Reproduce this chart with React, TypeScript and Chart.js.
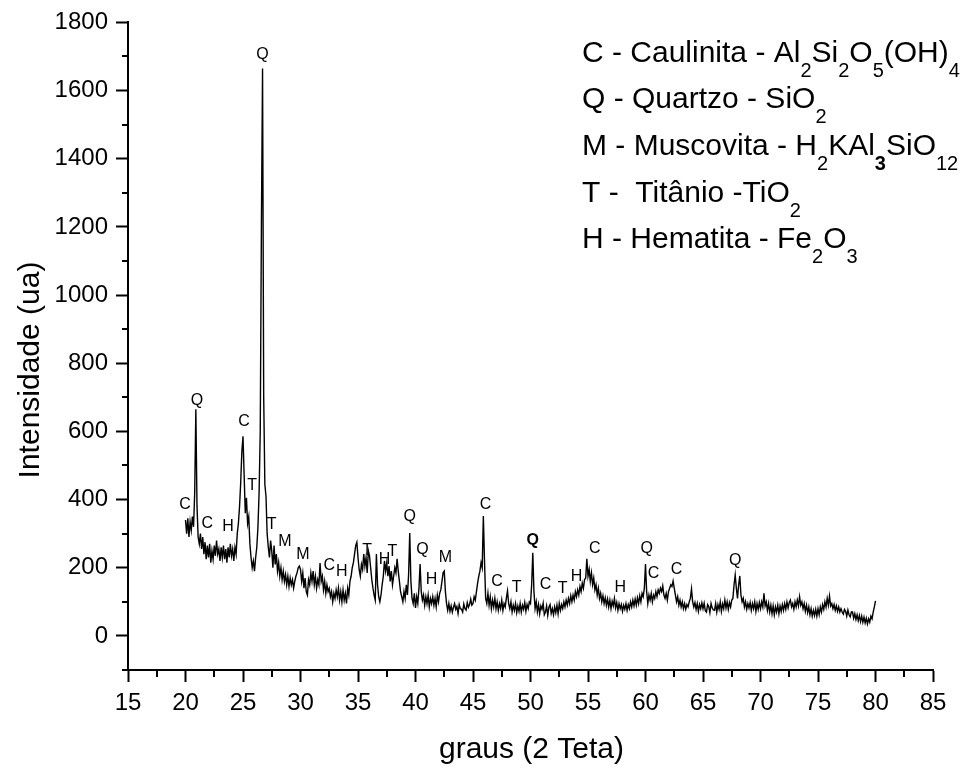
import React, { useEffect, useRef } from 'react';
import { Chart, registerables } from 'chart.js';

Chart.register(...registerables);

// Scan grid: 2θ from 20.0° to 80.0° in 0.1° steps
const SCAN_START = 20;
const SCAN_STEP = 0.1;

// Measured intensity (ua), one array per 10° window
const intensity20to30 = [
  340, 300, 345, 290, 335, 310, 350, 320, 420, 665,
  380, 290, 270, 300, 255, 290, 240, 275, 225, 265,
  230, 270, 215, 250, 225, 265, 235, 280, 240, 255,
  220, 260, 230, 265, 225, 255, 215, 260, 230, 270,
  235, 255, 220, 260, 240, 300, 330, 380, 450, 540,
  586, 470, 360, 405, 330, 350, 270, 230, 200, 220,
  190, 230, 260, 320, 420, 600, 1200, 1665, 700, 445,
  410, 300, 260, 230, 280, 250, 200, 265, 210, 240,
  190, 215, 175, 200, 165, 190, 160, 180, 150, 175,
  145, 170, 150, 165, 140, 160, 175, 185, 200, 205,
];
const intensity30to40 = [
  195, 160, 185, 140, 170, 130, 120, 165, 150, 185,
  160, 190, 150, 175, 140, 165, 150, 214, 160, 175,
  135, 160, 125, 150, 130, 140, 115, 130, 100, 125,
  110, 135, 115, 140, 105, 130, 100, 135, 105, 125,
  95, 140, 120, 160, 175, 200, 215, 240, 265, 275,
  230, 195, 175, 210, 195, 240, 205, 230, 185, 250,
  235, 200, 165, 140, 120, 105, 240, 150, 115, 100,
  120, 150, 175, 220, 190, 215, 175, 205, 160, 190,
  150, 175, 200, 185, 226, 190, 160, 130, 115, 100,
  130, 110, 150, 120, 180, 302, 160, 110, 95, 125,
];
const intensity40to50 = [
  82, 115, 95, 140, 211, 130, 105, 120, 90, 115,
  95, 120, 85, 110, 95, 115, 90, 110, 85, 120,
  100, 125, 135, 160, 185, 190, 130, 95, 75, 95,
  72, 88, 70, 84, 95, 78, 86, 66, 92, 80,
  78, 70, 94, 80, 76, 98, 84, 92, 108, 90,
  95, 115, 105, 130, 155, 175, 190, 215, 200, 352,
  220, 110, 95, 125, 90, 115, 80, 105, 85, 110,
  80, 100, 75, 95, 80, 105, 75, 95, 85, 110,
  132, 95, 80, 100, 70, 90, 75, 95, 68, 88,
  72, 95, 70, 90, 78, 98, 72, 92, 80, 100,
];
const intensity50to60 = [
  95, 150, 244, 130, 80, 100, 70, 92, 65, 88,
  78, 96, 62, 70, 88, 60, 84, 92, 66, 80,
  62, 85, 68, 90, 65, 95, 75, 92, 80, 100,
  85, 105, 90, 110, 95, 118, 100, 120, 105, 130,
  115, 135, 120, 145, 130, 155, 140, 165, 170, 226,
  175, 195, 160, 185, 150, 170, 135, 150, 120, 140,
  110, 125, 100, 118, 95, 112, 90, 108, 85, 105,
  80, 102, 88, 110, 82, 98, 75, 95, 80, 92,
  72, 90, 78, 95, 75, 92, 80, 100, 85, 105,
  88, 108, 90, 112, 95, 118, 100, 125, 115, 140,
];
const intensity60to70 = [
  211, 130, 95, 120, 105, 125, 100, 120, 110, 130,
  115, 135, 125, 140, 130, 147, 120, 110, 125, 105,
  130, 140, 150, 145, 161, 140, 120, 100, 115, 90,
  105, 85, 100, 80, 95, 78, 92, 85, 100, 110,
  138, 100, 85, 98, 78, 95, 72, 92, 80, 97,
  80, 96, 74, 70, 92, 86, 68, 95, 82, 76,
  75, 95, 70, 92, 78, 100, 72, 94, 80, 105,
  82, 100, 78, 98, 85, 105, 110, 150, 179, 140,
  110, 150, 176, 120, 100, 110, 85, 100, 78, 95,
  82, 98, 75, 95, 80, 100, 72, 95, 78, 98,
];
const intensity70to80 = [
  80, 100, 85, 125, 88, 100, 75, 95, 70, 90,
  65, 88, 62, 85, 70, 90, 65, 88, 72, 92,
  75, 95, 78, 100, 82, 98, 105, 85, 95, 78,
  100, 85, 105, 88, 115, 90, 100, 80, 95, 72,
  90, 68, 85, 62, 80, 58, 75, 60, 78, 58,
  80, 62, 85, 70, 92, 78, 100, 85, 110, 90,
  117, 88, 95, 80, 92, 75, 88, 72, 85, 70,
  80, 70, 64, 78, 72, 58, 76, 62, 56, 70,
  70, 52, 65, 48, 62, 45, 60, 42, 58, 40,
  55, 38, 52, 35, 50, 40, 58, 50, 70, 85,
  103,
];

// Axis ticks
const xMajorStep = 5;
const yMajorStep = 200;
const xMinorTicks = [17.5, 22.5, 27.5, 32.5, 37.5, 42.5, 47.5, 52.5, 57.5, 62.5, 67.5, 72.5, 77.5, 82.5];
const yMinorTicks = [-100, 100, 300, 500, 700, 900, 1100, 1300, 1500, 1700];

// Phase identification letters above the reflections
const markLabels = ['C', 'Q', 'C', 'H', 'C', 'T', 'Q', 'T', 'M', 'M', 'C', 'H', 'T', 'H', 'T', 'Q', 'Q', 'H', 'M', 'C', 'C', 'T', 'Q', 'C', 'T', 'H', 'C', 'H', 'Q', 'C', 'C', 'Q'];
const markTheta = [19.95, 21.0, 21.9, 23.7, 25.1, 25.8, 26.7, 27.5, 28.65, 30.2, 32.5, 33.6, 35.8, 37.3, 38.0, 39.5, 40.6, 41.4, 42.6, 46.1, 47.1, 48.8, 50.2, 51.3, 52.8, 54.0, 55.6, 57.8, 60.1, 60.7, 62.7, 67.8];
const markIntensity = [384, 689, 331, 320, 628, 440, 1707, 328, 276, 240, 205, 188, 249, 223, 246, 349, 252, 164, 229, 384, 158, 141, 279, 150, 138, 173, 255, 141, 255, 182, 196, 220];
const markBold = [false, false, false, false, false, false, false, false, false, false, false, false, false, false, false, false, false, false, false, false, false, false, true, false, false, false, false, false, false, false, false, false];

// Phase key: [text, style] runs, style '' = normal, 's' = subscript, 'sb' = bold subscript
type Run = [string, string];
const keyLines: Run[][] = [
  [['C - Caulinita - Al', ''], ['2', 's'], ['Si', ''], ['2', 's'], ['O', ''], ['5', 's'], ['(OH)', ''], ['4', 's']],
  [['Q - Quartzo - SiO', ''], ['2', 's']],
  [['M - Muscovita - H', ''], ['2', 's'], ['KAl', ''], ['3', 'sb'], ['SiO', ''], ['12', 's']],
  [['T -  Titânio -TiO', ''], ['2', 's']],
  [['H - Hematita - Fe', ''], ['2', 's'], ['O', ''], ['3', 's']],
];

const xTitle = 'graus (2 Teta)';
const yTitle = 'Intensidade (ua)';

const FONT = '"Liberation Sans", Arial, Helvetica, sans-serif';

const decorPlugin = {
  id: 'xrdDecor',
  afterDraw(chart: any) {
    const ctx: CanvasRenderingContext2D = chart.ctx;
    const xs = chart.scales.x;
    const ys = chart.scales.y;
    const area = chart.chartArea;
    ctx.save();

    // minor ticks
    ctx.strokeStyle = '#000';
    ctx.lineWidth = 2;
    ctx.beginPath();
    for (const v of xMinorTicks) {
      const px = Math.round(xs.getPixelForValue(v));
      ctx.moveTo(px, area.bottom);
      ctx.lineTo(px, area.bottom + 7);
    }
    for (const v of yMinorTicks) {
      const py = Math.round(ys.getPixelForValue(v));
      ctx.moveTo(area.left, py);
      ctx.lineTo(area.left - 6, py);
    }
    ctx.stroke();

    // phase letters
    ctx.fillStyle = '#000';
    ctx.textAlign = 'center';
    ctx.textBaseline = 'middle';
    markLabels.forEach((lab, i) => {
      ctx.font = `${markBold[i] ? 'bold ' : ''}16px ${FONT}`;
      ctx.fillText(lab, xs.getPixelForValue(markTheta[i]), ys.getPixelForValue(markIntensity[i]));
    });

    // axis titles
    ctx.font = `30px ${FONT}`;
    ctx.fillText(xTitle, (area.left + area.right) / 2 + 1, 750);
    ctx.save();
    ctx.translate(31, 370);
    ctx.rotate(-Math.PI / 2);
    ctx.fillText(yTitle, 0, 0);
    ctx.restore();

    // phase key with chemical formulas
    ctx.textAlign = 'left';
    ctx.textBaseline = 'alphabetic';
    const keyX = 582;
    const keyTop = 61.5;
    const keyGap = 46.7;
    keyLines.forEach((runs, li) => {
      let x = keyX;
      const base = keyTop + li * keyGap;
      for (const [txt, st] of runs) {
        if (st === '') {
          ctx.font = `30px ${FONT}`;
          ctx.fillText(txt, x, base);
        } else {
          ctx.font = `${st === 'sb' ? 'bold ' : ''}20px ${FONT}`;
          ctx.fillText(txt, x, base + 15);
        }
        x += ctx.measureText(txt).width;
      }
    });

    ctx.restore();
  },
};

export default function App() {
  const canvasRef = useRef<HTMLCanvasElement | null>(null);

  useEffect(() => {
    document.body.style.margin = '0';
    const canvas = canvasRef.current;
    if (!canvas) return;

    const intensity = [
      ...intensity20to30,
      ...intensity30to40,
      ...intensity40to50,
      ...intensity50to60,
      ...intensity60to70,
      ...intensity70to80,
    ];
    const points = intensity.map((y, i) => ({ x: Math.round((SCAN_START + i * SCAN_STEP) * 10) / 10, y }));

    const tickFont = { family: FONT, size: 24 };

    const chart = new Chart(canvas, {
      type: 'line',
      data: {
        datasets: [
          {
            data: points,
            borderColor: '#000',
            borderWidth: 1.4,
            pointRadius: 0,
            tension: 0,
            fill: false,
          },
        ],
      },
      options: {
        animation: false,
        responsive: false,
        maintainAspectRatio: false,
        layout: { padding: { left: 0, top: 22, right: 37, bottom: 0 } },
        plugins: {
          legend: { display: false },
          tooltip: { enabled: false },
        },
        scales: {
          x: {
            type: 'linear',
            min: 15,
            max: 85,
            afterFit: (s: any) => {
              s.height = 97;
            },
            ticks: {
              stepSize: xMajorStep,
              color: '#000',
              font: tickFont,
              padding: 7,
              maxRotation: 0,
              autoSkip: false,
            },
            grid: {
              drawOnChartArea: false,
              drawTicks: true,
              tickLength: 12,
              tickWidth: 2,
              tickColor: '#000',
            },
            border: { display: true, color: '#000', width: 2 },
          },
          y: {
            type: 'linear',
            min: -100,
            max: 1800,
            afterFit: (s: any) => {
              s.width = 128;
            },
            ticks: {
              stepSize: yMajorStep,
              color: '#000',
              font: tickFont,
              padding: 8,
              callback: (v: any) => (Number(v) < 0 ? '' : String(v)),
            },
            grid: {
              drawOnChartArea: false,
              drawTicks: true,
              tickLength: 12,
              tickWidth: 2,
              tickColor: (c: any) => (c.tick && c.tick.value < 0 ? 'rgba(0,0,0,0)' : '#000'),
            },
            border: { display: true, color: '#000', width: 2 },
          },
        },
      },
      plugins: [decorPlugin],
    });

    return () => chart.destroy();
  }, []);

  return <canvas ref={canvasRef} width={970} height={767} style={{ display: 'block' }} />;
}
